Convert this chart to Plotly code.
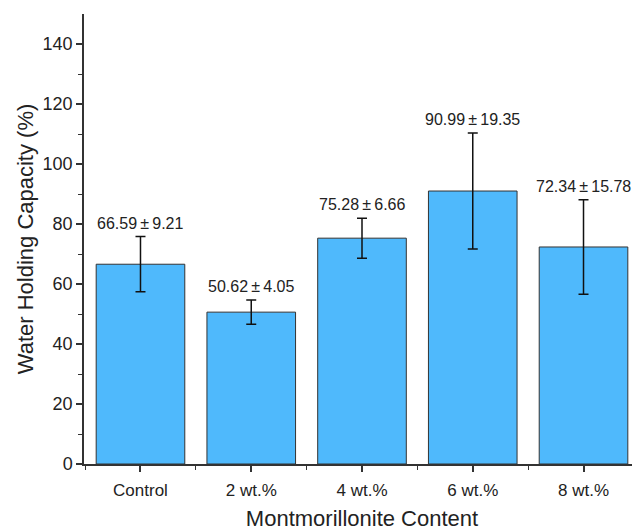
import plotly.graph_objects as go

categories = ["Control", "2 wt.%", "4 wt.%", "6 wt.%", "8 wt.%"]
means = [66.59, 50.62, 75.28, 90.99, 72.34]
sds = [9.21, 4.05, 6.66, 19.35, 15.78]

xs = list(range(len(categories)))
fig = go.Figure()
fig.add_trace(go.Bar(
    x=xs, y=means, width=0.8,
    marker=dict(color="#4FB9FC", line=dict(color="#333333", width=1)),
    error_y=dict(type="data", array=sds, visible=True, color="#111111", thickness=1.5, width=5),
))
for x, m, s in zip(xs, means, sds):
    fig.add_annotation(x=x, y=m + s, text=f"{m:.2f}\u2009±\u2009{s:.2f}", showarrow=False,
                       yanchor="bottom", yshift=3, font=dict(size=16, color="#222222"))

font = "Liberation Sans, Arial, sans-serif"
fig.update_layout(
    width=632, height=523, margin=dict(l=76, r=0, t=6, b=67),
    plot_bgcolor="white", paper_bgcolor="white",
    font=dict(family=font, color="#222222"), showlegend=False,
    xaxis=dict(range=[-0.51, 4.51], tickvals=xs, ticktext=categories, showline=True,
               linecolor="#333333", linewidth=1.5, ticks="outside", ticklen=6, tickwidth=1.5,
               tickcolor="#333333", tickfont=dict(size=17), showgrid=False, zeroline=False,
               ticklabelstandoff=4,
               minor=dict(tickvals=[-0.5, 0.5, 1.5, 2.5, 3.5, 4.5], ticks="outside", ticklen=4,
                          tickwidth=1.2, tickcolor="#333333"),
               title=dict(text="Montmorillonite Content", font=dict(size=22), standoff=14)),
    yaxis=dict(range=[0, 150], tickvals=[0, 20, 40, 60, 80, 100, 120, 140], showline=True,
               linecolor="#333333", linewidth=1.5, ticks="outside", ticklen=6, tickwidth=1.5,
               tickcolor="#333333", tickfont=dict(size=18), showgrid=False, zeroline=False,
               minor=dict(tickvals=[10, 30, 50, 70, 90, 110, 130], ticks="outside", ticklen=4,
                          tickwidth=1.2, tickcolor="#333333"),
               title=dict(text="Water Holding Capacity (%)", font=dict(size=22), standoff=3)),
)
fig.write_html("out.html")
